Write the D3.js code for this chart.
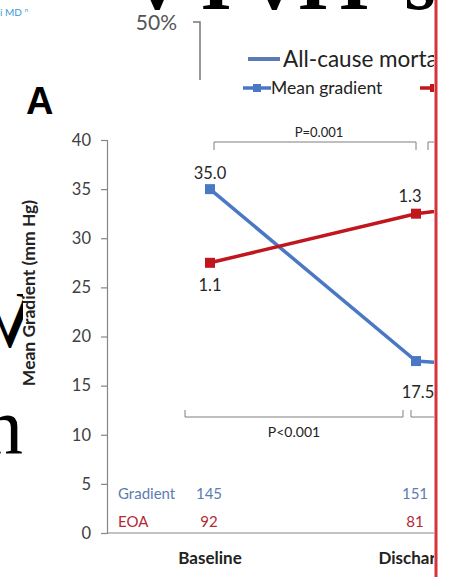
<!DOCTYPE html>
<html><head><meta charset="utf-8">
<script src="https://cdn.jsdelivr.net/npm/d3@7"></script>
<style>body{margin:0;background:#fff}svg{display:block}</style>
</head><body>
<script>
// ---- data ----
const categories = ["Baseline", "Discharge", "1 Year"];
const gradient = [35.0, 17.5, 16.0];        // mean gradient, mm Hg
const eoa = [1.1, 1.3, 1.4];                // effective orifice area, cm²
const nGradient = [145, 151, 120];
const nEOA = [92, 81, 70];
const yTicks = [0, 5, 10, 15, 20, 25, 30, 35, 40];
const pTop = "P=0.001";
const pBottom = "P<0.001";
const legendLabels = ["Mean gradient", "EOA"];
const bgTitle = "All-cause mortality";
const bgTick = ["50%"];
const topLetters = ["v", "I", "v", "I", "I", "s"];

const W = 449, H = 577;
const blue = "#4a78c4", red = "#c0161e";
const sans = "Lato, 'Open Sans', sans-serif";
const serif = "'Liberation Serif', 'DejaVu Serif', serif";

const svg = d3.select("body").append("svg").attr("width", W).attr("height", H);
const defs = svg.append("defs");
defs.append("clipPath").attr("id", "cp").append("rect").attr("x", 0).attr("y", 0).attr("width", 434).attr("height", H);
defs.append("clipPath").attr("id", "cpL").append("rect").attr("x", 0).attr("y", 0).attr("width", 23).attr("height", H);

const g = svg.append("g").attr("clip-path", "url(#cp)");

// scales
const x = d3.scalePoint().domain(categories).range([210, 622]);
const y = d3.scaleLinear().domain([0, 40]).range([533, 140]);
const y2 = d3.scaleLinear().domain([0, 1.6]).range([533, 140]);

// ---- background fragments ----
g.append("text").attr("x", 0).attr("y", 16).attr("fill", "#3b9ad6")
  .attr("font-family", sans).attr("font-size", 10).text("i MD")
  .append("tspan").attr("font-size", 6).attr("dy", -4).attr("dx", 3).text("n");

const tl = g.append("text").attr("font-family", serif).attr("font-weight", "bold")
  .attr("font-size", 80).attr("y", 9).attr("text-anchor", "middle").attr("fill", "#000");
const letterX = [157, 216, 274, 313, 354, 420];
topLetters.forEach((l, i) => tl.append("tspan").attr("x", letterX[i]).text(l));

g.append("text").attr("x", 177).attr("y", 30).attr("text-anchor", "end")
  .attr("font-family", sans).attr("font-size", 21).attr("fill", "#555").text(bgTick[0]);
g.append("path").attr("d", "M193,22H200V80").attr("fill", "none").attr("stroke", "#777").attr("stroke-width", 1.5);

g.append("line").attr("x1", 248).attr("x2", 280).attr("y1", 59).attr("y2", 59)
  .attr("stroke", "#5a7ab8").attr("stroke-width", 4);
g.append("text").attr("x", 283).attr("y", 67).attr("font-family", sans).attr("font-size", 22.5)
  .attr("fill", "#222").text(bgTitle);

const lv = svg.append("g").attr("clip-path", "url(#cpL)");
lv.append("text").attr("transform", "translate(10,347) scale(-1,1)").attr("text-anchor", "middle")
  .attr("font-family", serif).attr("font-size", 80).attr("fill", "#000").text("V");
lv.append("text").attr("x", -17).attr("y", 453)
  .attr("font-family", serif).attr("font-size", 80).attr("fill", "#000").text("n");

// ---- panel label ----
g.append("text").attr("x", 26).attr("y", 114).attr("font-family", "'Liberation Sans', Arial, sans-serif")
  .attr("font-weight", "bold").attr("font-size", 38).text("A");

// ---- legend ----
const leg = [{lab: legendLabels[0], c: blue, x: 243}, {lab: legendLabels[1], c: red, x: 420}];
leg.forEach(d => {
  g.append("line").attr("x1", d.x).attr("x2", d.x + 28).attr("y1", 88).attr("y2", 88)
    .attr("stroke", d.c).attr("stroke-width", 3.5);
  g.append("rect").attr("x", d.x + 10).attr("y", 84).attr("width", 8).attr("height", 8).attr("fill", d.c);
  g.append("text").attr("x", d.x + 28).attr("y", 94).attr("font-family", sans).attr("font-size", 17.5)
    .attr("fill", "#222").text(d.lab);
});

// ---- axes ----
const yAxis = g.append("g").attr("transform", "translate(107,0)")
  .call(d3.axisLeft(y).tickValues(yTicks).tickSize(6).tickPadding(10));
yAxis.select(".domain").attr("stroke", "#868686").attr("stroke-width", 1.2);
yAxis.selectAll(".tick line").attr("stroke", "#868686").attr("stroke-width", 1.2);
yAxis.selectAll(".tick text").attr("font-family", sans).attr("font-size", 16.5).attr("fill", "#404040");

g.append("line").attr("x1", 107).attr("x2", 700).attr("y1", y(0)).attr("y2", y(0))
  .attr("stroke", "#868686").attr("stroke-width", 1.2);

g.selectAll(".xlab").data(categories).join("text")
  .attr("x", d => x(d)).attr("y", 564).attr("text-anchor", "middle")
  .attr("font-family", sans).attr("font-weight", "bold").attr("font-size", 17).attr("fill", "#222")
  .text(d => d);

g.append("text").attr("transform", "translate(35,293) rotate(-90)").attr("text-anchor", "middle")
  .attr("font-family", sans).attr("font-weight", "bold").attr("font-size", 17.5).attr("fill", "#222")
  .text("Mean Gradient (mm Hg)");

// ---- brackets ----
const bk = "#7f7f7f";
const xb = x("Baseline"), xd = x("Discharge");
g.append("path").attr("d", `M${xb + 4},150V142H${xd}V150`).attr("fill", "none").attr("stroke", bk).attr("stroke-width", 1);
g.append("path").attr("d", `M${xd + 12},150V142H${xd + 200}`).attr("fill", "none").attr("stroke", bk).attr("stroke-width", 1);
g.append("text").attr("x", (xb + xd) / 2 + 6).attr("y", 137).attr("text-anchor", "middle")
  .attr("font-family", sans).attr("font-size", 13).attr("fill", "#222").text(pTop);

g.append("path").attr("d", `M${xb - 25},410V417H${xd - 13}V410`).attr("fill", "none").attr("stroke", bk).attr("stroke-width", 1);
g.append("path").attr("d", `M${xd - 5},410V417H${xd + 200}`).attr("fill", "none").attr("stroke", bk).attr("stroke-width", 1);
g.append("text").attr("x", (xb + xd) / 2 - 19).attr("y", 437).attr("text-anchor", "middle")
  .attr("font-family", sans).attr("font-size", 14).attr("fill", "#222").text(pBottom);

// ---- lines ----
const lineG = d3.line().x((d, i) => x(categories[i])).y(d => y(d));
const lineE = d3.line().x((d, i) => x(categories[i])).y(d => y2(d));
g.append("path").datum(gradient).attr("d", lineG).attr("fill", "none").attr("stroke", blue).attr("stroke-width", 3.5);
g.append("path").datum(eoa).attr("d", lineE).attr("fill", "none").attr("stroke", red).attr("stroke-width", 3.5);
g.selectAll(".mg").data(gradient).join("rect")
  .attr("x", (d, i) => x(categories[i]) - 5).attr("y", d => y(d) - 5).attr("width", 10).attr("height", 10).attr("fill", blue);
g.selectAll(".me").data(eoa).join("rect")
  .attr("x", (d, i) => x(categories[i]) - 5).attr("y", d => y2(d) - 5).attr("width", 10).attr("height", 10).attr("fill", red);

// data labels
const lbl = (xx, yy, t) => g.append("text").attr("x", xx).attr("y", yy).attr("text-anchor", "middle")
  .attr("font-family", sans).attr("font-size", 16.5).attr("fill", "#262626").text(t);
lbl(xb, y(gradient[0]) - 10, gradient[0].toFixed(1));
lbl(xd + 2, y(gradient[1]) + 37, gradient[1].toFixed(1));
lbl(xb, y2(eoa[0]) + 28, eoa[0].toFixed(1));
lbl(xd - 6, y2(eoa[1]) - 12, eoa[1].toFixed(1));

// n table
const fsT = 15;
g.append("text").attr("x", 118).attr("y", 499).attr("font-family", sans).attr("font-size", fsT).attr("fill", "#5b7db1").text("Gradient");
g.append("text").attr("x", 118).attr("y", 527).attr("font-family", sans).attr("font-size", fsT).attr("fill", "#b22a35").text("EOA");
g.selectAll(".ng").data(nGradient).join("text")
  .attr("x", (d, i) => x(categories[i]) - 1).attr("y", 499).attr("text-anchor", "middle")
  .attr("font-family", sans).attr("font-size", fsT).attr("fill", "#5b7db1").text(d => d);
g.selectAll(".ne").data(nEOA).join("text")
  .attr("x", (d, i) => x(categories[i]) - 1).attr("y", 527).attr("text-anchor", "middle")
  .attr("font-family", sans).attr("font-size", fsT).attr("fill", "#b22a35").text(d => d);

// ---- red vertical divider ----
svg.append("line").attr("x1", 436).attr("x2", 436).attr("y1", 0).attr("y2", H)
  .attr("stroke", "#d6323a").attr("stroke-width", 3);
</script>
</body></html>
